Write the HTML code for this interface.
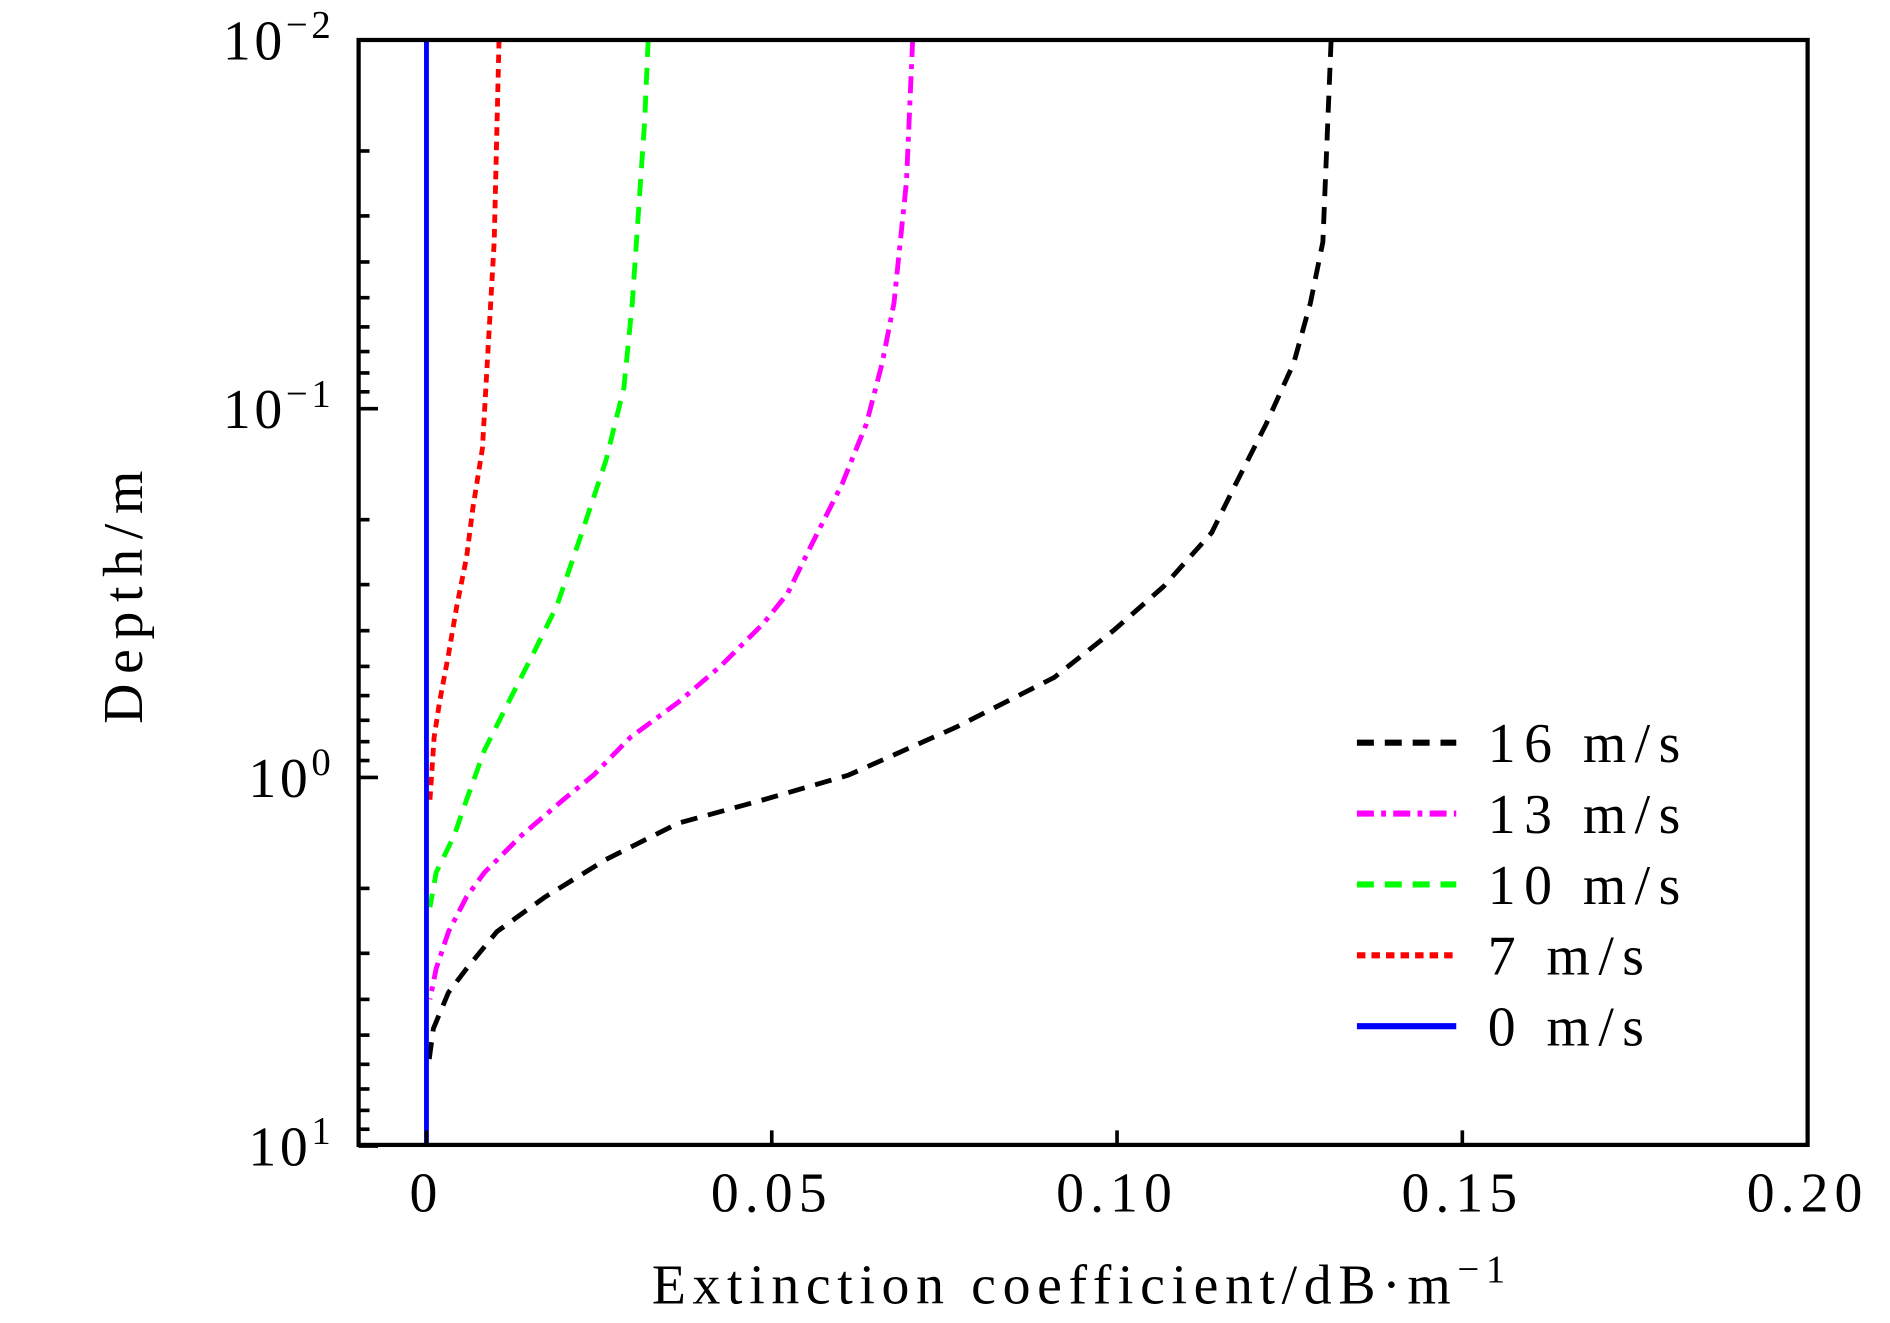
<!DOCTYPE html>
<html><head><meta charset="utf-8"><style>
html,body{margin:0;padding:0;background:#fff}
svg{display:block}
text{font-family:"Liberation Serif",serif;fill:#000}
</style></head><body>
<svg id="chart" width="1890" height="1323" viewBox="0 0 1560 1092" xmlns="http://www.w3.org/2000/svg">
<g id="marks"></g>
<rect x="296" y="33" width="1196" height="912" fill="none" stroke="#000" stroke-width="3.5"/>
<g id="ticks"></g>
<text x="893" y="1076" font-size="46" letter-spacing="5.5" text-anchor="middle">Extinction coefficient/dB·m<tspan dy="-18" font-size="32">−1</tspan></text>
<text transform="translate(117,489) rotate(-90)" font-size="46" letter-spacing="8" text-anchor="middle">Depth/m</text>
<g id="legend"></g>
</svg>
<script>
const xTicks=[0,0.05,0.10,0.15,0.20];
const xTickLabels=["0","0.05","0.10","0.15","0.20"];
const yDecades=[-2,-1,0,1];
const seriesNames=["16 m/s","13 m/s","10 m/s","7 m/s","0 m/s"];
const d16=[0.01,0.0353,0.0517,0.0751,0.110,0.160,0.217,0.304,0.398,0.536,0.729,0.986,1.15,1.33,1.67,2.11,2.62,3.30,3.83,4.8,6.0];
const x16=[0.131,0.1298,0.128,0.1256,0.1216,0.1172,0.1137,0.1067,0.0996,0.0909,0.0768,0.0611,0.0488,0.0365,0.026,0.0172,0.0102,0.0058,0.0032,0.001,0.0003];
const d13=[0.01,0.0242,0.0517,0.0751,0.110,0.160,0.233,0.317,0.382,0.499,0.625,0.78,0.986,1.15,1.44,1.81,2.11,2.62,3.3,4.0];
const x13=[0.0704,0.0695,0.0677,0.066,0.0637,0.0602,0.0558,0.0523,0.0488,0.0426,0.0365,0.0295,0.0242,0.0198,0.0137,0.0084,0.0058,0.0032,0.0014,0.0005];
const d10=[0.01,0.0166,0.0353,0.0517,0.0876,0.138,0.217,0.342,0.464,0.625,0.843,1.15,1.44,1.81,2.25];
const x10=[0.0321,0.0316,0.0304,0.0298,0.0286,0.026,0.0225,0.0189,0.0154,0.0119,0.0084,0.0058,0.004,0.0014,0.0005];
const d7=[0.01,0.0353,0.0648,0.128,0.187,0.253,0.342,0.464,0.625,0.78,1.15];
const x7=[0.0105,0.0098,0.009,0.0081,0.0067,0.0058,0.0044,0.0032,0.0019,0.0011,0.0005];
const d0=[0.01,10];
const x0=[0,0];

const NS="http://www.w3.org/2000/svg";
const X0=352,XPER=5700,Y0=33,DEC=304.33;
function sx(v){return X0+v*XPER;}
function sy(d){return Y0+(Math.log10(d)+2)*DEC;}
function mk(tag,attrs,parent){const e=document.createElementNS(NS,tag);for(const k in attrs)e.setAttribute(k,attrs[k]);parent.appendChild(e);return e;}
const marks=document.getElementById('marks'),ticks=document.getElementById('ticks'),legend=document.getElementById('legend');
const styles=[
 {c:"#000",da:"14 9"},
 {c:"#ff00ff",da:"14 6 4 6"},
 {c:"#00ff00",da:"14 9"},
 {c:"#ff0000",da:"7 5"},
 {c:"#0000ff",da:"none"}];
const ds=[d16,d13,d10,d7,d0],xs=[x16,x13,x10,x7,x0];
const names=["series-16ms","series-13ms","series-10ms","series-7ms","series-0ms"];
for(let i=0;i<5;i++){
 const pts=ds[i].map((d,j)=>sx(xs[i][j]).toFixed(1)+","+sy(d).toFixed(1)).join(" ");
 const p=mk('polyline',{points:pts,fill:"none",stroke:styles[i].c,"stroke-width":4,"stroke-dasharray":styles[i].da},marks);
 
 
 const ly=613+i*58.5;
 const ll=mk('line',{x1:1120,x2:1202,y1:ly,y2:ly,stroke:styles[i].c,"stroke-width":5,"stroke-dasharray":styles[i].da},legend);
 
 
 const lt=mk('text',{x:1228,y:ly+16,"font-size":46,"letter-spacing":7},legend);
 lt.textContent=seriesNames[i];
 
 
}
xTicks.forEach((v,i)=>{
 const x=sx(v);
 const t=mk('line',{x1:x,x2:x,y1:945,y2:933,stroke:"#000","stroke-width":3},ticks);
 
 
 const l=mk('text',{x:x,y:1000,"font-size":46,"letter-spacing":5,"text-anchor":"middle"},ticks);
 l.textContent=xTickLabels[i];
 
 
});
yDecades.forEach((e,i)=>{
 const y=sy(Math.pow(10,e));
 const t=mk('line',{x1:296,x2:312,y1:y,y2:y,stroke:"#000","stroke-width":3},ticks);
 
 
 const l=mk('text',{x:276,y:y+16,"font-size":46,"letter-spacing":3,"text-anchor":"end"},ticks);
 
 
 l.innerHTML='10<tspan dy="-18" font-size="32">'+(e<0?'−'+(-e):e)+'</tspan>';
 if(i<yDecades.length-1){
  for(let m=2;m<=9;m++){
   const yy=sy(m*Math.pow(10,e));
   const mt=mk('line',{x1:296,x2:305,y1:yy,y2:yy,stroke:"#000","stroke-width":3},ticks);
   
   
  }
 }
});
</script>
</body></html>
